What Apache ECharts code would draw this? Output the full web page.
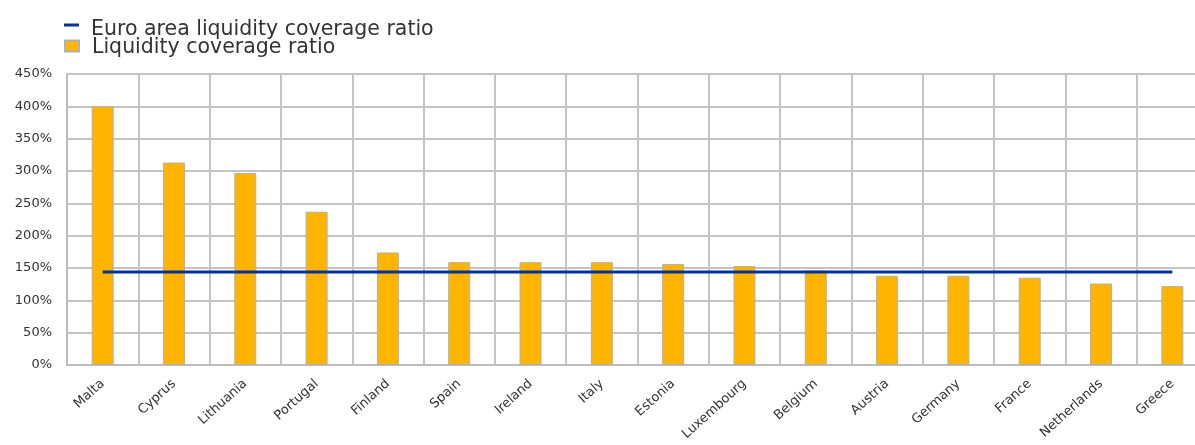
<!DOCTYPE html>
<html>
<head>
<meta charset="utf-8">
<script src="https://cdn.jsdelivr.net/npm/echarts@6/dist/echarts.min.js"></script>
<style>html,body{margin:0;padding:0;background:#fff;overflow:hidden}#c{width:1212px;height:445px}</style>
</head>
<body>
<div id="c"></div>
<script>
const categories = ["Malta","Cyprus","Lithuania","Portugal","Finland","Spain","Ireland","Italy","Estonia","Luxembourg","Belgium","Austria","Germany","France","Netherlands","Greece"];
const lcr = [400, 313, 297, 237, 174, 159, 159, 159, 156, 153, 146, 138, 138, 135, 126, 122];
const euroAreaLcr = [144, 144, 144, 144, 144, 144, 144, 144, 144, 144, 144, 144, 144, 144, 144, 144];
const yTicks = { min: 0, max: 450, interval: 50 };
const seriesNames = ["Euro area liquidity coverage ratio", "Liquidity coverage ratio"];

const chart = echarts.init(document.getElementById('c'), null, { renderer: 'canvas' });
const font = 'DejaVu Sans, sans-serif';
chart.setOption({
  animation: false,
  backgroundColor: '#fff',
  legend: [
    { data: [seriesNames[0]], left: 64, top: 19, orient: 'vertical', icon: 'rect', itemWidth: 15, itemHeight: 3, itemGap: 0, padding: 0,
      formatter: '{t|{name}}',
      textStyle: { fontFamily: font, fontSize: 20.5, color: '#333',
        rich: { t: { fontFamily: font, fontSize: 20.5, color: '#333', padding: [9, 0, 0, 7] } } } },
    { data: [seriesNames[1]], left: 64, top: 37, orient: 'vertical', icon: 'rect', itemWidth: 14, itemHeight: 11, itemGap: 0, padding: 0,
      formatter: '{t|{name}}',
      textStyle: { fontFamily: font, fontSize: 20.5, color: '#333',
        rich: { t: { fontFamily: font, fontSize: 20.5, color: '#333', padding: [3, 0, 0, 8] } } } }
  ],
  grid: { left: 67, top: 74, width: 1141, height: 291, containLabel: false },
  xAxis: {
    type: 'category', data: categories, boundaryGap: true,
    axisLine: { show: true, lineStyle: { color: '#bdbdbd', width: 2 } },
    axisTick: { show: false },
    splitLine: { show: true, lineStyle: { color: '#c4c4c4', width: 2 } },
    axisLabel: { rotate: 42, fontFamily: font, fontSize: 13, color: '#333', margin: 17, interval: 0 }
  },
  yAxis: {
    type: 'value', min: yTicks.min, max: yTicks.max, interval: yTicks.interval,
    axisLine: { show: true, lineStyle: { color: '#bdbdbd', width: 2 } },
    axisTick: { show: false },
    splitLine: { show: true, lineStyle: { color: '#c4c4c4', width: 2 } },
    axisLabel: { formatter: '{value}%', fontFamily: font, fontSize: 13, color: '#333', margin: 15 }
  },
  series: [
    { name: seriesNames[1], type: 'bar', data: lcr, barWidth: 22, z: 2,
      itemStyle: { color: '#FFB400', borderColor: '#b0b0b0', borderWidth: 1 } },
    { name: seriesNames[0], type: 'line', data: euroAreaLcr, symbol: 'none', z: 3,
      lineStyle: { color: '#003299', width: 3 }, itemStyle: { color: '#003299' } }
  ]
});
</script>
</body>
</html>
